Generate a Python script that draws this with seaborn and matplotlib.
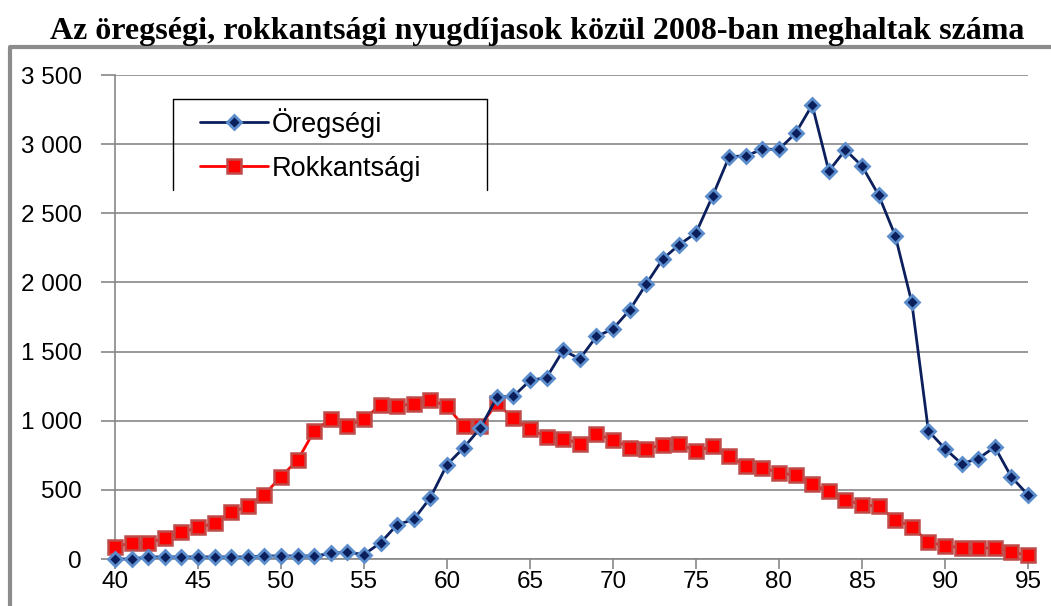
import matplotlib
matplotlib.use('Agg')
import pandas as pd
import seaborn as sns
import matplotlib.pyplot as plt
from matplotlib.lines import Line2D
from matplotlib.ticker import FuncFormatter, MultipleLocator

# Életkor (év)
eletkor = list(range(40, 96))

# Öregségi nyugdíjasok közül meghaltak
oregsegi = [0, 0, 15, 15, 15, 15, 15, 15, 15, 22, 22, 22, 22, 40, 50, 32,
            118, 248, 286, 444, 682, 804, 945, 1168, 1176, 1291, 1312, 1509,
            1447, 1609, 1664, 1800, 1988, 2170, 2274, 2358, 2625, 2910, 2915,
            2963, 2963, 3079, 3283, 2806, 2958, 2842, 2632, 2339, 1855, 926,
            798, 689, 726, 810, 593, 464]

# Rokkantsági nyugdíjasok közül meghaltak
rokkantsagi = [89, 115, 115, 154, 192, 228, 257, 337, 382, 466, 596, 714,
               926, 1012, 962, 1012, 1113, 1106, 1123, 1149, 1106, 959, 962,
               1125, 1018, 937, 883, 871, 835, 902, 864, 806, 798, 827, 835,
               779, 818, 743, 672, 660, 624, 605, 539, 491, 428, 392, 382,
               283, 235, 121, 97, 80, 80, 80, 48, 29]

cim = 'Az öregségi, rokkantsági nyugdíjasok közül 2008-ban meghaltak száma'

df = pd.DataFrame({'kor': eletkor, 'Öregségi': oregsegi, 'Rokkantsági': rokkantsagi})

sns.set_style('white')
plt.rcParams['font.family'] = ['Liberation Sans', 'DejaVu Sans']
plt.rcParams['text.color'] = 'black'
plt.rcParams['xtick.labelcolor'] = 'black'
plt.rcParams['ytick.labelcolor'] = 'black'

fig = plt.figure(figsize=(10.51, 6.06), dpi=100)
ax = fig.add_axes([115 / 1051, 1 - 559 / 606, (1028 - 115) / 1051, (559 - 75) / 606])

sns.lineplot(data=df, x='kor', y='Öregségi', ax=ax, color='#0a1f5c', linewidth=2,
             marker='D', markersize=7.5, markerfacecolor='#0a1f5c',
             markeredgecolor='#5b8ccb', markeredgewidth=2, clip_on=False,
             label='Öregségi', zorder=4)
sns.lineplot(data=df, x='kor', y='Rokkantsági', ax=ax, color='#ff0000', linewidth=2,
             marker='s', markersize=9.5, markerfacecolor='#ff0000',
             markeredgecolor='#be4b48', markeredgewidth=1.8, clip_on=False,
             label='Rokkantsági', zorder=3)

ax.set_xlim(40, 95)
ax.set_ylim(0, 3500)
ax.xaxis.set_major_locator(MultipleLocator(5))
ax.yaxis.set_major_locator(MultipleLocator(500))
ax.yaxis.set_major_formatter(FuncFormatter(lambda v, p: f'{int(v):,}'.replace(',', ' ')))
ax.set_xlabel('')
ax.set_ylabel('')

ax.grid(axis='y', color='#878787', linewidth=1.2)
ax.grid(axis='x', visible=False)
for s in ['top', 'right']:
    ax.spines[s].set_visible(False)
for s in ['left', 'bottom']:
    ax.spines[s].set_color('#878787')
    ax.spines[s].set_linewidth(1.2)
ax.tick_params(axis='y', length=10, color='#878787', width=1.2, labelsize=17.5, pad=14,
               labelcolor='black')
ax.tick_params(axis='x', length=7, color='#878787', width=1.2, labelsize=17.5,
               direction='out', pad=2, labelcolor='black')
ax.tick_params(left=True, bottom=True)

# jelmagyarázat: nyitott aljú keret
leg = ax.legend(loc='upper left', bbox_to_anchor=((200 - 115) / 913, 1 - (108 - 75) / 484),
                frameon=False, fontsize=19.5, handlelength=2.5, handletextpad=0.15,
                labelspacing=0.66, borderaxespad=0, borderpad=0)
for t in leg.get_texts():
    t.set_color('black')
x0, x1 = 173 / 1051, 487 / 1051
y0, y1 = 1 - 99 / 606, 1 - 190 / 606
for xs, ys in [([x0, x0], [y1, y0]), ([x0, x1], [y0, y0]), ([x1, x1], [y0, y1])]:
    fig.add_artist(Line2D(xs, ys, color='black', linewidth=1, transform=fig.transFigure))

# külső keret (diagramterület)
fig.add_artist(Line2D([10 / 1051, 10 / 1051, 1.0], [0, 1 - 47 / 606, 1 - 47 / 606],
                      color='#8c8c8c', linewidth=3, transform=fig.transFigure))

fig.text(0.511, 1 - 31 / 606, cim, ha='center', va='center', fontsize=23,
         fontweight='bold', family=['Liberation Serif', 'DejaVu Serif'])

fig.savefig('out.png', dpi=100)
